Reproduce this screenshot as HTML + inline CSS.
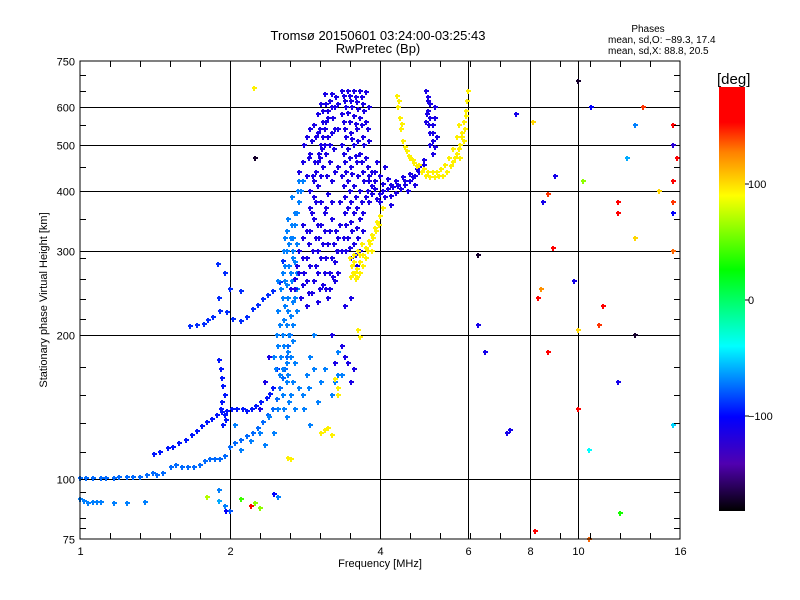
<!DOCTYPE html>
<html><head><meta charset="utf-8"><style>
body{margin:0;background:#fff;}
svg{display:block;font-family:"Liberation Sans",sans-serif;}
</style></head><body>
<svg id="chart" width="800" height="600" viewBox="0 0 800 600">
<defs>
<linearGradient id="cbar" x1="0" y1="1" x2="0" y2="0">
<stop offset="0" stop-color="#000000"/>
<stop offset="0.111" stop-color="#5000b0"/>
<stop offset="0.222" stop-color="#0000ff"/>
<stop offset="0.389" stop-color="#00ffff"/>
<stop offset="0.569" stop-color="#00ff00"/>
<stop offset="0.744" stop-color="#ffff00"/>
<stop offset="0.847" stop-color="#ff8000"/>
<stop offset="0.917" stop-color="#ff0000"/>
<stop offset="1" stop-color="#ff0000"/>
</linearGradient>
</defs>
<text x="378" y="40" font-size="13" text-anchor="middle">Tromsø 20150601 03:24:00-03:25:43</text>
<text x="378" y="53" font-size="13" text-anchor="middle">RwPretec (Bp)</text>
<text x="648" y="32" font-size="10" text-anchor="middle">Phases</text>
<text x="608" y="43" font-size="10">mean, sd,O: −89.3, 17.4</text>
<text x="608" y="54" font-size="10">mean, sd,X:  88.8, 20.5</text>
<g id="grid"></g>
<g id="marks"></g>
<rect x="80" y="61" width="600" height="478" fill="none" stroke="#000" stroke-width="1"/>
<g id="ticks"></g>
<text x="380" y="567" font-size="11" text-anchor="middle">Frequency [MHz]</text>
<text transform="translate(47,300) rotate(-90)" font-size="11" text-anchor="middle">Stationary phase Virtual Height [km]</text>
<text x="717" y="84" font-size="15">[deg]</text>
<rect x="719" y="87" width="26" height="424" fill="url(#cbar)"/>
<g id="cbticks"></g>
</svg>
<script>
const xTickVals=[1,2,4,6,8,10,16];
const yTickVals=[75,100,200,300,400,500,600,750];
const yMinor=[79,83,94,114,131,150,172,216,238,262,290,350,450,550,650,700];
const cbTickVals=[100,0,-100];
const lowF=[1.0,1.03,1.06,1.1,1.13,1.17,1.2,1.24,1.28,1.32,1.36,1.4,1.43,1.47,1.52,1.56,1.6,1.65,1.69,1.74,1.78,1.82,1.87,1.91,1.95,2.0,2.05,2.1,2.16,2.22,2.28,2.33,2.38,2.44,2.48,2.52,2.55,2.58,2.6,2.62,2.64];
const lowH=[100.5,100.5,100.5,100.5,100.5,100.5,101,101,101,101,102,103,102,103,106,107,106,106,106,107,109,110,110,110,112,117,119,121,123,125,128,132,136,140,147,155,163,170,180,190,200];
const upF=[1.41,1.45,1.5,1.54,1.58,1.63,1.68,1.72,1.76,1.8,1.84,1.88,1.93,1.97,2.02,2.07,2.12,2.16,2.21,2.26,2.31,2.37,2.41,2.44,2.48];
const upH=[113,114,116,117,119,121,124,126,129,132,134,136,138,139,140,140,140,139,140,142,145,148,151,155,170];
const echoF=[1.0,1.02,1.04,1.06,1.08,1.1,1.17,1.24,1.35];
const echoH=[91,90,89,89.5,89.5,89.6,89.2,89.4,89.8];
const vertF=[1.90,1.92,1.93,1.94,1.95,1.93,1.92,1.95,1.96,1.94];
const vertH=[178,170,163,157,150,145,140,136,133,130];
const midF=[1.66,1.72,1.77,1.81,1.85,1.91,1.97,2.03,2.1,2.16,2.22,2.28,2.33,2.38,2.44,2.52,2.55,1.89,2.0,2.1,1.9,1.95];
const midH=[209,210,211,215,219,225,224,216,214,218,227,232,238,243,248,259,286,282,250,248,240,270];
const lightPts=[[2.45,180],[2.5,190],[2.55,200],[2.6,210],[2.65,220],[2.5,225],[2.55,240],[2.6,255],[2.65,270],[2.7,285],[2.55,270],[2.6,300],[2.65,320],[2.7,340],[2.72,360],[2.75,380],[2.78,400],[2.8,420],[2.62,350],[2.68,300],[2.58,230],[2.48,200],[2.52,165],[2.6,160],[2.65,150],[2.55,150],[2.7,175],[2.62,185],[2.7,240],[2.58,320],[2.7,140],[2.8,150],[2.85,165],[2.9,180],[2.95,200],[3.0,145],[3.05,160],[3.1,170],[3.2,150],[3.25,160],[3.3,165],[3.35,165],[3.3,185],[2.6,135],[2.45,125],[2.3,125],[2.9,130],[2.05,130],[2.1,115],[2.2,120],[2.35,118],[2.5,260],[2.58,280],[2.66,390],[2.75,420],
[2.47,170],[2.53,180],[2.57,190],[2.63,200],[2.67,210],[2.52,210],[2.57,215],[2.62,225],[2.67,235],[2.72,250],[2.53,250],[2.62,240],[2.66,260],[2.72,270],[2.58,260],[2.63,280],[2.68,290],[2.73,310],[2.6,330],[2.66,340],[2.7,360],[2.74,400],[2.63,310],[2.57,300],[2.68,320],[2.55,170],[2.6,175],[2.65,180],[2.57,140],[2.63,145],[2.68,160],[2.5,140],[2.4,135],[2.75,155],[2.82,140],[2.88,155],[2.95,170],[2.62,165],[2.68,195],[2.73,225]];
const darkPts=[[2.65,250],[2.7,262],[2.72,280],[2.75,300],[2.78,240],[2.8,255],[2.82,270],[2.85,290],[2.88,310],[2.9,330],[2.92,245],[2.95,260],[2.98,280],[3.0,300],[3.02,320],[3.05,340],[3.08,255],[3.1,270],[3.12,290],[3.15,310],[3.18,330],[3.2,350],[3.22,265],[3.25,285],[3.28,300],[3.3,320],[3.33,340],[2.85,230],[3.0,235],[3.15,240],[2.95,350],[3.1,360],[2.8,320],[3.25,260],[3.35,300],[3.3,270],[3.05,380],[2.9,370],[3.15,395],
[2.9,400],[2.95,420],[2.98,440],[3.0,460],[3.02,480],[3.05,500],[3.08,520],[3.1,540],[3.12,560],[3.15,590],[3.18,620],[3.2,640],[2.85,430],[2.88,470],[2.92,510],[2.95,550],[3.0,580],[3.05,610],[3.1,640],[3.0,410],[3.08,450],[3.12,480],[3.18,500],[3.2,530],[3.22,570],[3.25,600],[3.27,630],[2.8,460],[2.82,500],[2.75,440],
[3.35,650],[3.45,650],[3.55,650],[3.65,650],[3.75,645],[3.4,620],[3.5,620],[3.6,615],[3.7,610],[3.8,600],[3.35,580],[3.45,585],[3.55,575],[3.65,570],[3.75,560],[3.4,540],[3.5,530],[3.6,540],[3.7,520],[3.8,510],[3.35,500],[3.45,490],[3.55,500],[3.65,480],[3.75,470],[3.4,460],[3.5,450],[3.6,460],[3.7,440],[3.8,430],[3.35,430],[3.45,420],[3.55,410],[3.65,400],[3.75,390],[3.4,390],[3.5,380],[3.6,370],[3.7,360],[3.4,360],[3.5,345],[3.6,335],[3.45,320],[3.55,310],[3.65,300],[3.5,290],[3.6,280],[3.7,330],[3.8,380],[3.85,410],[3.9,440],
[3.8,420],[3.9,405],[4.0,395],[4.1,390],[4.2,392],[4.3,398],[4.4,405],[4.5,412],[4.6,420],[4.7,430],[4.8,440],[4.9,455],[3.85,440],[4.0,430],[4.15,425],[4.3,420],[4.45,428],[4.6,435],[4.75,445],[4.9,465],[4.0,380],[4.2,375],[3.95,460],[4.1,450],
[4.95,650],[5.0,630],[5.05,610],[5.0,590],[5.05,570],[5.1,550],[5.05,530],[5.1,510],[5.15,495],[4.95,560],[5.15,600],[5.2,520],[5.1,480],
[2.3,140],[2.35,160],[2.4,180],[3.2,200],[3.25,175],[3.35,190],[3.4,180],[3.45,175],[3.5,160],[3.55,170],[3.4,230],[3.5,240],
[3.38,635],[3.48,635],[3.58,632],[3.68,630],[3.42,600],[3.52,600],[3.62,595],[3.72,590],[3.38,560],[3.48,560],[3.58,555],[3.68,550],[3.78,540],[3.42,520],[3.52,515],[3.62,510],[3.72,500],[3.38,480],[3.48,470],[3.58,475],[3.68,460],[3.78,450],[3.42,440],[3.52,435],[3.62,430],[3.72,420],[3.38,410],[3.48,400],[3.58,390],[3.68,380],[3.78,400],[3.45,370],[3.55,360],[3.65,350],[3.42,340],[3.52,330],[3.62,320],[3.48,305],[3.58,295],[3.42,300],[3.38,320],[3.32,380],[3.3,450],[3.3,540],[3.3,610],
[2.93,430],[2.96,460],[3.03,470],[3.06,490],[3.1,500],[3.14,520],[2.97,520],[3.03,540],[3.07,560],[3.15,570],[3.2,600],[3.12,610],[3.08,590],[3.0,530],[2.9,480],[2.86,520],[2.9,540],[3.18,460],[3.23,490],[3.25,540],[3.13,430],[3.2,420],[3.25,440],[3.05,430],[2.95,390],
[2.7,250],[2.75,270],[2.8,290],[2.85,260],[2.9,280],[2.93,300],[2.97,320],[3.0,270],[3.05,290],[3.08,310],[3.12,250],[3.17,270],[3.2,290],[3.23,310],[3.27,330],[3.3,300],[2.88,245],[3.03,250],[3.18,250],[2.92,360],[3.0,340],[3.1,330],[2.85,330],[2.8,340],[2.97,380],[3.12,370],[3.2,380],
[3.85,395],[3.95,385],[4.05,400],[4.15,405],[4.25,408],[4.35,412],[4.5,420],[4.65,428],[4.8,450],[4.05,415],[4.2,412],[4.35,410],[3.9,420],[4.55,400],[4.7,412],[5.0,620],[4.97,580],[5.02,550],[5.12,530],[5.15,570],[5.05,500]];
const yellowPts=[[4.33,635],[4.35,600],[4.38,570],[4.4,540],[4.45,510],[4.53,485],[4.6,470],[4.68,458],[4.75,452],[4.85,440],[4.95,432],[5.04,428],[5.15,428],[5.25,430],[5.35,432],[5.45,440],[5.55,452],[5.61,460],[5.7,480],[5.8,500],[5.85,530],[5.9,560],[5.94,590],[5.99,620],[6.0,650],[5.5,470],[5.6,490],[5.7,520],[5.75,550],[5.4,455],[5.3,445],[5.8,470],[5.9,510],
[4.37,620],[4.42,555],[4.48,495],[4.57,475],[4.65,465],[4.8,455],[4.9,445],[5.0,440],[5.1,440],[5.2,440],[5.65,470],[5.75,490],[5.85,520],[5.92,540],[5.96,575],
[3.48,290],[3.52,280],[3.56,270],[3.6,275],[3.65,285],[3.7,295],[3.75,305],[3.8,315],[3.85,325],[3.9,335],[3.95,345],[4.0,355],[4.05,370],[3.55,295],[3.62,300],[3.68,310],[3.5,265],[3.58,262],[3.75,290],[3.85,300],
[3.53,270],[3.6,265],[3.65,270],[3.7,280],[3.78,300],[3.82,310],[3.88,320],[3.93,330],[3.98,340],[3.55,285],[3.65,295],
[3.05,125],[3.1,127],[3.15,128],[3.2,124],[3.25,162],[3.3,155],[3.3,150],[2.65,110],[2.62,111],[3.65,198],[3.62,205],[2.23,660]];
const scatF=[6.3,6.3,6.5,7.2,7.3,8.3,8.4,8.5,8.7,8.7,8.9,9.0,9.8,10.0,10.0,10.0,10.2,10.6,10.5,11.2,11.0,12.0,12.0,12.0,12.1,12.5,13.0,13.0,13.0,13.5,14.5,15.5,15.5,15.5,15.5,15.5,15.5,15.5,15.8,8.2,10.5,7.5,8.1,1.9,1.9,1.95,1.96,2.1,2.2,2.25,2.3,2.45,2.5,1.8,2.0,2.24];
const scatH=[295,210,185,125,127,240,250,380,395,185,305,430,260,140,205,680,420,600,115,230,210,380,360,160,85,470,550,200,320,600,400,420,380,360,300,130,550,500,470,78,75,580,560,95,90,88,86,91,88,89,87,93,92,92,86,470];
const scatP=[-170,-110,-110,-110,-110,160,120,-110,140,150,160,-110,-110,170,100,-170,60,-100,-40,150,140,150,160,-110,30,-60,-70,-170,100,140,100,150,140,-100,130,-50,150,-120,160,160,130,-110,100,-70,-60,-70,-100,40,150,60,60,-100,-70,70,-80,-170];

const NS='http://www.w3.org/2000/svg';
function xs(f){return 80+150*Math.log2(f);}
function ys(h){return 539-478*Math.log10(h/75);}
const stops=[[-180,[0,0,0]],[-140,[80,0,176]],[-100,[0,0,255]],[-40,[0,255,255]],[25,[0,255,0]],[88,[255,255,0]],[125,[255,128,0]],[150,[255,0,0]],[180,[255,0,0]]];
function col(v){
  for(let i=1;i<stops.length;i++){if(v<=stops[i][0]){const a=stops[i-1],b=stops[i];const t=(v-a[0])/(b[0]-a[0]);
  return 'rgb('+a[1].map((c,k)=>Math.round(c+(b[1][k]-c)*t)).join(',')+')';}}
  return 'rgb(255,0,0)';
}
const marks=document.getElementById('marks');
function plus(f,h,p){
  const x=Math.round(xs(f)),y=Math.round(ys(h));
  const el=document.createElementNS(NS,'path');
  el.setAttribute('d','M'+(x-2)+' '+y+'h5M'+x+' '+(y-2)+'v5');
  el.setAttribute('stroke',col(p));el.setAttribute('stroke-width','2');el.setAttribute('fill','none');
  
  
  marks.appendChild(el);
}
lowF.forEach((f,i)=>plus(f,lowH[i],-75));
upF.forEach((f,i)=>plus(f,upH[i],-95));
echoF.forEach((f,i)=>plus(f,echoH[i],-70));
vertF.forEach((f,i)=>plus(f,vertH[i],-95));
midF.forEach((f,i)=>plus(f,midH[i],-90));
lightPts.forEach(p=>plus(p[0],p[1],-70));
darkPts.forEach(p=>plus(p[0],p[1],-112));
yellowPts.forEach(p=>plus(p[0],p[1],92));
scatF.forEach((f,i)=>plus(f,scatH[i],scatP[i]));

const grid=document.getElementById('grid'),ticks=document.getElementById('ticks');
function line(g,x1,y1,x2,y2,name){const l=document.createElementNS(NS,'line');
  l.setAttribute('x1',x1);l.setAttribute('y1',y1);l.setAttribute('x2',x2);l.setAttribute('y2',y2);
  l.setAttribute('stroke','#000');l.setAttribute('stroke-width','1');
  
  
  g.appendChild(l);}
function txt(g,x,y,s,anchor,name,size){const t=document.createElementNS(NS,'text');
  t.setAttribute('x',x);t.setAttribute('y',y);t.setAttribute('text-anchor',anchor);t.setAttribute('font-size',size||11);t.textContent=s;
  
  
  g.appendChild(t);}
xTickVals.forEach(v=>{const x=Math.round(xs(v))+0.5;
  if(v>1&&v<16)line(grid,x,61,x,539,'x-gridline');
  txt(ticks,x,555,String(v),'middle','x-tick-label');});
yTickVals.forEach(v=>{const y=Math.round(ys(v))+0.5;
  if(v>75&&v<750)line(grid,80,y,680,y,'y-gridline');
  txt(ticks,75,y+4,String(v),'end','y-tick-label');});
for(let x=110;x<680;x+=30){line(ticks,x+0.5,539,x+0.5,533,'x-minor-tick');line(ticks,x+0.5,61,x+0.5,67,'x-minor-tick-top');}
yMinor.forEach(v=>{const y=Math.round(ys(v))+0.5;line(ticks,80,y,86,y,'y-minor-tick');line(ticks,674,y,680,y,'y-minor-tick-right');});
const cb=document.getElementById('cbticks');
cbTickVals.forEach(v=>{const y=300-1.16*v;line(cb,745,y,749,y,'colorbar-tick');txt(cb,748,y+4,v<0?'\u2212'+(-v):String(v),'start','colorbar-tick-label');});
</script>
</body></html>
